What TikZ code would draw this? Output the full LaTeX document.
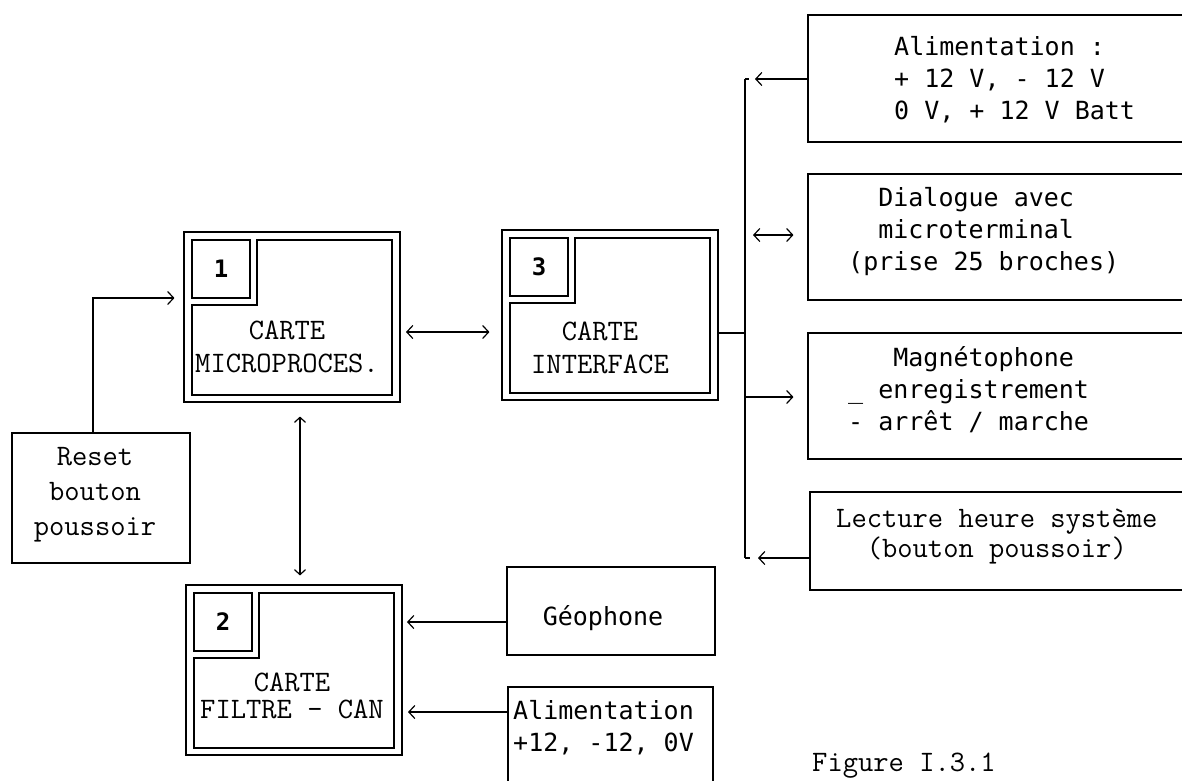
\documentclass[tikz,border=0pt]{standalone}
\usepackage{fontspec}
\newfontfamily\gothic{DejaVu Sans Mono}
\usetikzlibrary{arrows.meta,calc}
\newcommand\mycard[4]{%
  \node[outerbox] (#1) at (#2+108,#3+85) {};
  \node[numbox] (#1n) at (#2+37,#3+37) {#4};
  \draw[frame] (#2+73,#3+8) -- (#2+208,#3+8) -- (#2+208,#3+163) -- (#2+8,#3+163)
     -- (#2+8,#3+73) -- (#2+73,#3+73) -- cycle;
}
\begin{document}
\begin{tikzpicture}[x=1pt,y=-1pt,
  box/.style={draw, line width=1.1pt, inner sep=0pt},
  outerbox/.style={draw, line width=1.1pt, inner sep=0pt, minimum width=216pt, minimum height=170pt},
  numbox/.style={draw, line width=1.1pt, inner sep=0pt, minimum width=58pt, minimum height=58pt,
                 font=\gothic\bfseries\fontsize{24}{28}\selectfont},
  frame/.style={line width=1.1pt},
  conn/.style={line width=1.2pt},
  >={Straight Barb[length=6pt,width=13pt]},
  cour/.style={font=\ttfamily\fontsize{29.7}{33}\selectfont, inner sep=0pt},
  goth/.style={font=\gothic\fontsize{25}{32}\selectfont, inner sep=0pt},
]
\useasboundingbox (0,0) rectangle (1182,780);
\clip (0,0) rectangle (1182,780);

% cards
\mycard{c1}{184}{232}{1}
\mycard{c3}{502}{230}{3}
\mycard{c2}{186}{585}{2}
\node[cour, align=center] (t1) at (287,347) {CARTE\\MICROPROCES.};
\node[cour, align=center] (t3) at (600,348) {CARTE\\INTERFACE};
\node[cour, align=center, font=\ttfamily\fontsize{29.7}{27}\selectfont] (t2) at (292,696) {CARTE\\FILTRE - CAN};

% reset
\node[box, minimum width=178pt, minimum height=130pt] (reset) at (101,498) {};
\node[cour, align=center, font=\ttfamily\fontsize{29.7}{35}\selectfont] (treset) at (95,495) {Reset\\bouton\\poussoir};

% right boxes
\node[box, minimum width=382pt, minimum height=127pt] (bA) at (999,78.5) {};
\node[goth, align=left, anchor=west] (tA) at (894,80) {Alimentation :\\+ 12 V, - 12 V\\0 V, + 12 V Batt};
\node[box, minimum width=382pt, minimum height=126pt] (bB) at (999,237) {};
\node[goth, align=left, anchor=west] (tB) at (848,232) {\ \ Dialogue avec\\\ \ microterminal\\(prise 25 broches)};
\node[box, minimum width=382pt, minimum height=126pt] (bC) at (999,396) {};
\node[goth, align=left, anchor=west] (tC) at (848,390) {\ \ \ Magnétophone\\\_ enregistrement\\- arrêt / marche};
\node[box, minimum width=380pt, minimum height=98pt] (bD) at (1000,541) {};
\node[cour, align=left, anchor=west, font=\ttfamily\fontsize{29.7}{30}\selectfont] (tD) at (836,537) {Lecture heure système\\\ \ (bouton poussoir)};

% bottom boxes
\node[box, minimum width=208pt, minimum height=88pt] (geo) at (611,611) {};
\node[goth] (tgeo) at (603,618) {Géophone};
\node[box, minimum width=205pt, minimum height=116pt] (alim) at (610.5,745) {};
\node[goth, align=left, anchor=north west] (talim) at (513,700) {Alimentation\\+12, -12, 0V};

% caption
\node[cour, anchor=base west] (cap) at (812,771) {Figure I.3.1};

% junction coordinates
\coordinate (jr) at (93,298);
\coordinate (j13) at (400,332);
\coordinate (bustop) at (745,79);
\coordinate (busbot) at (745,558);
\coordinate (bj) at (745,333);
\coordinate (jB) at (745,235);
\coordinate (jC) at (745,397);
\coordinate (jg) at (402,622);
\coordinate (ja) at (402,712);

% connectors
\draw[conn, ->, shorten >=9pt] (reset.north -| jr) |- (jr -| c1.west);
\draw[conn, <->, shorten <=6pt, shorten >=12pt] (j13) -- (j13 -| c3.west);
\draw[conn, <->, >={Straight Barb[length=5pt,width=11pt]}, shorten <=14pt, shorten >=9pt]
   ([xshift=8pt]c1.south) -- ([xshift=8pt]c1.south |- c2.north);
\draw[conn] (bustop) -- (busbot);
\draw[conn] (bj -| c3.east) -- (bj);
\draw[conn] (bustop) -- ++(4,0);
\draw[conn] (busbot) -- ++(5,0);
\draw[conn, <-, shorten <=10pt] (bustop) -- (bustop -| bA.west);
\draw[conn, <->, shorten <=8pt, shorten >=14pt] (jB) -- (jB -| bB.west);
\draw[conn, ->, shorten >=14pt] (jC) -- (jC -| bC.west);
\draw[conn, <-, shorten <=13pt] (busbot) -- (busbot -| bD.west);
\draw[conn, <-, shorten <=5pt] (jg) -- (jg -| geo.west);
\draw[conn, <-, shorten <=6pt] (ja) -- (ja -| alim.west);
\end{tikzpicture}
\end{document}
